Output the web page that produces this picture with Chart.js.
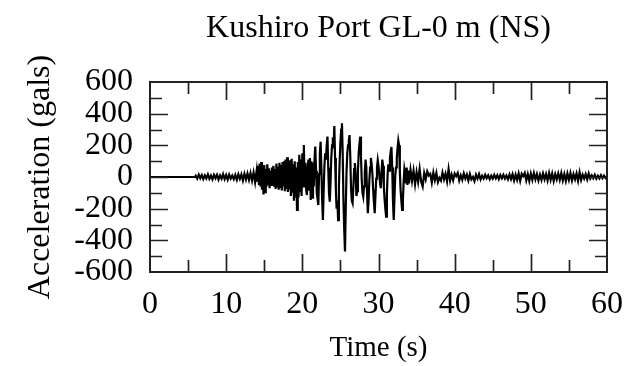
<!DOCTYPE html>
<html>
<head>
<meta charset="utf-8">
<script src="https://cdn.jsdelivr.net/npm/chart.js@4/dist/chart.umd.min.js"></script>
<style>
  body { margin: 0; background: #fff; }
  canvas { display: block; }
</style>
</head>
<body>
<canvas id="quake" width="637" height="366"></canvas>
<script>
// Kushiro Port GL-0 m (NS) record, [time s, acceleration gals]
const preEvent = [
  [0, 0], [5.9, 0]
];

const pWaves = [
  [6.0, 8], [6.2, -10], [6.4, 15], [6.6, -8], [6.8, 12], [7.0, -13], [7.2, 10], [7.4, -9],
  [7.6, 16], [7.8, -12], [8.0, 9], [8.2, -15], [8.4, 13], [8.6, -8], [8.8, 14], [9.0, -16],
  [9.2, 10], [9.4, -11], [9.6, 18], [9.8, -13], [10.0, 12], [10.2, -17], [10.4, 15], [10.6, -10],
  [10.8, 9], [11.0, -14], [11.2, 13], [11.4, -18], [11.6, 17], [11.8, -12], [12.0, 16], [12.2, -22],
  [12.4, 20], [12.6, -16], [12.8, 22], [13.0, -18], [13.2, 25], [13.4, -22], [13.6, 28], [13.8, -32]
];

const sWaves = [
  [14.0, 40], [14.1, -30], [14.2, 70], [14.3, -50], [14.4, 85], [14.5, -60], [14.6, 95], [14.7, -80],
  [14.8, 60], [14.9, -110], [15.0, 75], [15.1, -95], [15.2, 50], [15.3, -60], [15.4, 80], [15.5, -45],
  [15.6, 55], [15.7, -70], [15.8, 40], [15.9, -50], [16.0, 60], [16.1, -40], [16.2, 70], [16.3, -55],
  [16.4, 50], [16.5, -75], [16.6, 85], [16.7, -60], [16.8, 65], [16.9, -80], [17.0, 90], [17.1, -70],
  [17.2, 75], [17.3, -85], [17.4, 95], [17.5, -60], [17.6, 100], [17.7, -90], [17.8, 110], [17.9, -75],
  [18.0, 125], [18.1, -95], [18.2, 90], [18.3, -80], [18.4, 105], [18.5, -120], [18.6, 115], [18.7, -100],
  [18.8, 80], [18.9, -150], [19.0, 100], [19.1, -130], [19.2, 60], [19.3, -208], [19.4, 95], [19.5, -130],
  [19.6, 140], [19.7, -90], [19.8, 110], [19.9, -120], [20.0, 150], [20.1, -60], [20.2, 202], [20.3, -40],
  [20.4, 90], [20.5, -80], [20.6, -114], [20.7, 60], [20.8, 110], [20.9, -80], [21.0, 120], [21.1, -145],
  [21.2, 100], [21.3, -130], [21.4, 90], [21.5, -60], [21.6, 110], [21.7, 192], [21.8, 40], [21.9, -100],
  [22.0, -140], [22.1, -177], [22.2, 20], [22.3, 150], [22.4, 223], [22.5, 60], [22.6, -140], [22.7, -272],
  [22.8, -90], [22.9, 70], [23.0, 150], [23.1, 110], [23.2, 200], [23.3, 255], [23.4, 60], [23.5, -100],
  [23.6, -156], [23.7, -40], [23.8, 120], [23.9, 200], [24.0, 250], [24.1, 180], [24.2, 322], [24.3, 120],
  [24.4, -80], [24.5, -200], [24.6, -150], [24.7, -272], [24.8, -60], [24.9, 100], [25.0, 220], [25.1, 300],
  [25.2, 340], [25.3, 150], [25.4, -150], [25.5, -330], [25.6, -470], [25.7, -200], [25.8, 30], [25.9, 150],
  [26.0, 200], [26.1, 230], [26.2, 265], [26.3, 120], [26.4, -80], [26.5, -150], [26.6, -165], [26.7, -60],
  [26.8, 50], [26.9, 88], [27.0, 20], [27.1, -120], [27.2, -90], [27.3, 40], [27.4, 150], [27.5, 210],
  [27.6, 255], [27.7, 130], [27.8, -20], [27.9, -100], [28.0, -124], [28.1, -60], [28.2, 30], [28.3, 110],
  [28.4, 60], [28.5, -100], [28.6, -228], [28.7, -150], [28.8, -20], [28.9, 60], [29.0, 120], [29.1, 80],
  [29.2, 20], [29.3, -80], [29.4, -160], [29.5, -228], [29.6, -120], [29.7, -10], [29.8, 60], [29.9, 106],
  [30.0, 70], [30.1, 20], [30.2, -40], [30.3, -70], [30.4, 30], [30.5, 110], [30.6, 70], [30.7, -60],
  [30.8, -140], [30.9, -200], [31.0, -250], [31.1, -110], [31.2, 20], [31.3, 80], [31.4, 40], [31.5, 120],
  [31.6, 160], [31.7, 190], [31.8, 60], [31.9, -150], [32.0, -272], [32.1, -130], [32.2, 10], [32.3, 60],
  [32.4, 120], [32.5, 180], [32.6, 230], [32.7, 200], [32.8, 40], [32.9, -80], [33.0, -150], [33.1, -208],
  [33.2, -150], [33.3, -30], [33.4, 50], [33.5, 20], [33.6, -40], [33.7, 60], [33.8, -50], [33.9, 40]
];

const coda = [
  [34.0, -40], [34.2, 45], [34.4, -25], [34.6, 40], [34.8, -45], [35.0, 30], [35.2, -30], [35.4, 50],
  [35.6, -30], [35.8, -60], [36.0, 25], [36.2, -15], [36.4, 35], [36.6, 10], [36.8, 20], [37.0, -35],
  [37.2, 28], [37.4, -20], [37.6, 25], [37.8, -32], [38.0, -5], [38.2, -22], [38.4, 28], [38.6, -15],
  [38.8, 20], [39.0, -28], [39.2, 50], [39.4, -22], [39.6, 15], [39.8, -20], [40.0, 22], [40.2, 5],
  [40.4, 25], [40.6, -22], [40.8, 10], [41.0, -18], [41.2, 22], [41.4, -10], [41.6, 15], [41.8, -22],
  [42.0, 18], [42.2, -15], [42.4, 0], [42.6, -25], [42.8, 15], [43.0, -10], [43.2, 18], [43.4, -15],
  [43.6, 8], [43.8, -10], [44.0, 14], [44.2, -8], [44.4, 10], [44.6, -14], [44.8, 8], [45.0, -10],
  [45.2, 14], [45.4, -9], [45.6, 11], [45.8, -14], [46.0, 12], [46.2, -8], [46.4, 14], [46.6, -10],
  [46.8, 9], [47.0, -14], [47.2, 16], [47.4, -13], [47.6, 18], [47.8, -22], [48.0, 15], [48.2, -18],
  [48.4, 22], [48.6, -25], [48.8, 20], [49.0, 5], [49.2, 25], [49.4, -22], [49.6, 18], [49.8, -25],
  [50.0, 22], [50.2, -18], [50.4, 25], [50.6, -15], [50.8, 18], [51.0, -22], [51.2, 15], [51.4, -18],
  [51.6, 22], [51.8, -15], [52.0, 18], [52.2, -22], [52.4, 25], [52.6, -18], [52.8, 22], [53.0, -25],
  [53.2, 18], [53.4, -15], [53.6, 22], [53.8, -18], [54.0, 25], [54.2, -22], [54.4, 18], [54.6, -25],
  [54.8, 22], [55.0, -18], [55.2, 25], [55.4, -22], [55.6, 18], [55.8, -15], [56.0, 22], [56.2, -25],
  [56.4, 30], [56.6, -18], [56.8, 15], [57.0, -10], [57.2, 18], [57.4, -15], [57.6, 22], [57.8, -10],
  [58.0, 10], [58.2, -8], [58.4, 14], [58.6, -10], [58.8, 8], [59.0, -9], [59.2, 11], [59.4, -8],
  [59.6, 9], [59.8, -6], [60.0, 4]
];

const xTickMarks = [0, 5, 10, 15, 20, 25, 30, 35, 40, 45, 50, 55, 60];
const yTickMarks = [-600, -500, -400, -300, -200, -100, 0, 100, 200, 300, 400, 500, 600];

const serif = "'Liberation Serif', 'DejaVu Serif', serif";

const record = preEvent.concat(pWaves, sWaves, coda);

// box round the plot with ticks pointing inwards, like gnuplot
const framePlugin = {
  id: 'frame',
  afterDraw(chart) {
    const c = chart.ctx;
    const a = chart.chartArea;
    const xs = chart.scales.x;
    const ys = chart.scales.y;
    c.save();
    c.strokeStyle = '#222';
    c.lineWidth = 1.7;
    c.beginPath();
    for (const v of xTickMarks) {
      if (v === 0 || v === 60) continue;
      const px = Math.round(xs.getPixelForValue(v)) + 0.5;
      const len = v % 10 === 0 ? 18 : 12;
      c.moveTo(px, a.bottom); c.lineTo(px, a.bottom - len);
      c.moveTo(px, a.top); c.lineTo(px, a.top + len);
    }
    for (const v of yTickMarks) {
      if (v === -600 || v === 600) continue;
      const py = Math.round(ys.getPixelForValue(v)) + 0.5;
      const len = v % 200 === 0 ? 18 : 12;
      c.moveTo(a.left, py); c.lineTo(a.left + len, py);
      c.moveTo(a.right, py); c.lineTo(a.right - len, py);
    }
    c.stroke();
    c.lineWidth = 2;
    c.strokeRect(a.left, a.top, a.right - a.left, a.bottom - a.top);
    c.restore();
  }
};

new Chart(document.getElementById('quake'), {
  type: 'line',
  data: {
    datasets: [{
      data: record.map(p => ({ x: p[0], y: p[1] })),
      borderColor: '#000',
      borderWidth: 2.2,
      pointRadius: 0,
      tension: 0,
      fill: false
    }]
  },
  options: {
    responsive: false,
    animation: false,
    layout: { padding: { left: 0, right: 30, top: 0, bottom: 0 } },
    plugins: {
      legend: { display: false },
      tooltip: { enabled: false },
      title: {
        display: true,
        fullSize: false,
        text: 'Kushiro Port GL-0 m (NS)',
        color: '#000',
        font: { family: serif, size: 32, weight: 'normal' },
        padding: { top: 9, bottom: 34.6 }
      }
    },
    scales: {
      x: {
        type: 'linear',
        min: 0,
        max: 60,
        grid: { display: false },
        border: { display: false },
        ticks: {
          stepSize: 10,
          color: '#000',
          padding: 5,
          maxRotation: 0,
          autoSkip: false,
          font: { family: serif, size: 32 }
        },
        title: {
          display: true,
          text: 'Time (s)',
          color: '#000',
          font: { family: serif, size: 29 },
          padding: { top: 3, bottom: 0 }
        },
        afterFit(s) { s.height = 94; }
      },
      y: {
        min: -600,
        max: 600,
        grid: { display: false },
        border: { display: false },
        ticks: {
          stepSize: 200,
          color: '#000',
          padding: 9,
          autoSkip: false,
          font: { family: serif, size: 32 }
        },
        title: {
          display: true,
          text: 'Acceleration (gals)',
          color: '#000',
          font: { family: serif, size: 32 },
          padding: { top: 21, bottom: 0 }
        },
        afterFit(s) { s.width = 150; }
      }
    }
  },
  plugins: [framePlugin]
});
</script>
</body>
</html>
